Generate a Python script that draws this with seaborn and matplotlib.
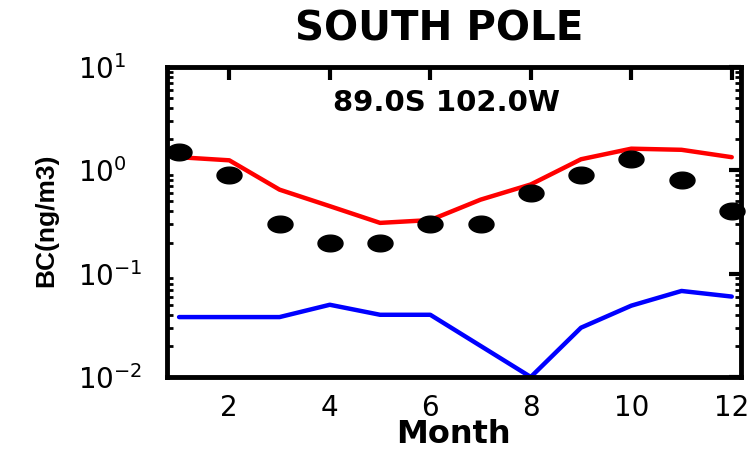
import numpy as np
import pandas as pd
import matplotlib
matplotlib.use("Agg")
import matplotlib.pyplot as plt
import seaborn as sns
from matplotlib.path import Path
from matplotlib.ticker import LogLocator, LogFormatterMathtext, NullFormatter

# monthly values
months = list(range(1, 13))
observed = [1.5, 0.9, 0.30, 0.20, 0.20, 0.30, 0.30, 0.60, 0.9, 1.3, 0.8, 0.40]
model_red = [1.34, 1.25, 0.65, 0.45, 0.31, 0.33, 0.52, 0.73, 1.28, 1.62, 1.58, 1.34]
model_blue = [0.038, 0.038, 0.038, 0.05, 0.04, 0.04, 0.02, 0.01, 0.030, 0.049, 0.068, 0.06]

df = pd.DataFrame({"month": months, "obs": observed,
                   "red": model_red, "blue": model_blue})

sns.set_style("white")
plt.rcParams["font.family"] = ["DejaVu Sans"]
plt.rcParams["mathtext.default"] = "regular"
for key in ["text.color", "axes.labelcolor", "xtick.color", "ytick.color"]:
    plt.rcParams[key] = "black"

fig = plt.figure(figsize=(7.55, 4.53), dpi=100)
ax = fig.add_axes([0.2212, 0.1678, 0.760, 0.6843])

# flattened ellipse marker for observations
t = np.linspace(0, 2 * np.pi, 60)
ellipse = Path(np.column_stack([1.5 * np.cos(t), np.sin(t)]), closed=True)

sns.lineplot(data=df, x="month", y="red", color="#ff0000", linewidth=3.2, ax=ax)
sns.lineplot(data=df, x="month", y="blue", color="#0000ff", linewidth=3.2, ax=ax)
ax.plot(df["month"], df["obs"], linestyle="none", marker=ellipse,
        markersize=18, color="black", clip_on=False, zorder=5)

ax.set_yscale("log")
ax.set_ylim(0.01, 10)
ax.set_xlim(0.76, 12.18)
ax.set_xticks([2, 4, 6, 8, 10, 12])
ax.yaxis.set_major_locator(LogLocator(base=10))
ax.yaxis.set_minor_locator(LogLocator(base=10, subs=np.arange(2, 10)))
ax.yaxis.set_major_formatter(LogFormatterMathtext())
ax.yaxis.set_minor_formatter(NullFormatter())

for s in ax.spines.values():
    s.set_linewidth(3.5)
    s.set_color("black")
ax.tick_params(which="major", direction="in", length=9, width=3,
               top=True, right=True, labelsize=20, colors="black")
ax.tick_params(which="minor", direction="in", length=4.5, width=2,
               right=True, left=True, colors="black")
ax.tick_params(axis="x", which="minor", bottom=False, top=False)
ax.tick_params(axis="x", which="major", pad=12)
ax.tick_params(axis="y", which="major", pad=64)
for lab in ax.get_yticklabels():
    lab.set_horizontalalignment("left")

ax.set_xlabel("Month", fontsize=23, fontweight="bold")
ax.xaxis.label.set_verticalalignment("baseline")
ax.xaxis.set_label_coords(0.5, -0.213)
ax.set_ylabel("BC(ng/m3)", fontsize=19, fontweight="bold",
              family=["Liberation Sans"])
ax.yaxis.set_label_coords(-0.19, 0.506)
ax.set_title("SOUTH POLE", fontsize=29, fontweight="bold", pad=19, x=0.475)
ax.text(0.487, 0.884, "89.0S 102.0W", transform=ax.transAxes,
        fontsize=21, fontweight="bold", ha="center", va="center")

fig.savefig("out.png", dpi=100)
